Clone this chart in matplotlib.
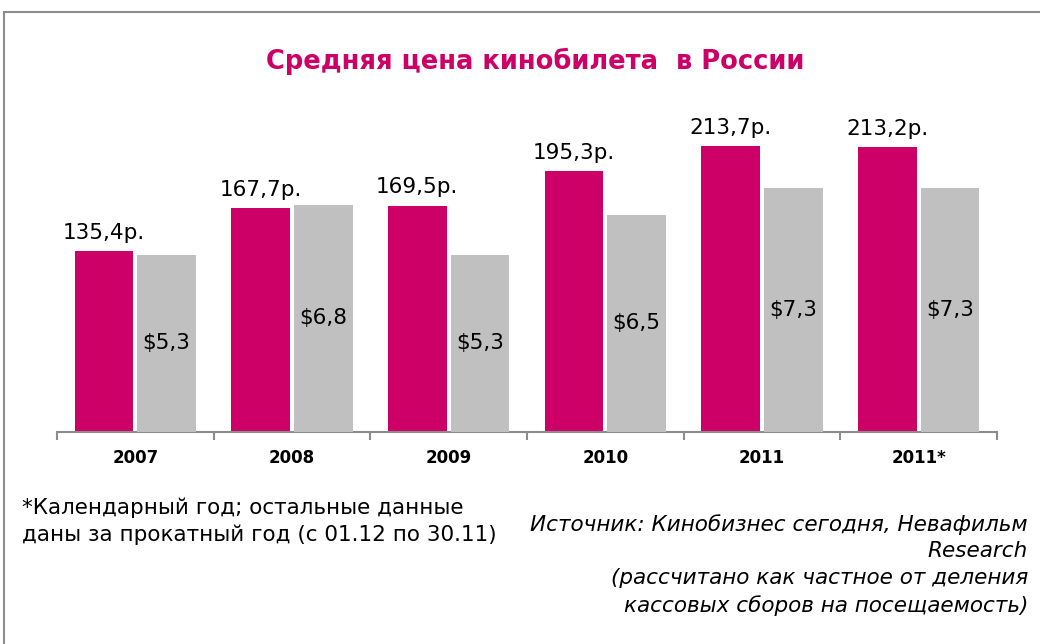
import matplotlib.pyplot as plt
from matplotlib.patches import Rectangle
import numpy as np

years = ["2007", "2008", "2009", "2010", "2011", "2011*"]
rub_price = [135.4, 167.7, 169.5, 195.3, 213.7, 213.2]
usd_price = [5.3, 6.8, 5.3, 6.5, 7.3, 7.3]

MAGENTA = "#CC0066"
GREY = "#C0C0C0"
AXIS_GREY = "#8C8C8C"


def fmt(v):
    return f"{v:.1f}".replace(".", ",")


def main():
    fig = plt.figure(figsize=(10.4, 6.44), dpi=100)

    # outer frame (only top and left edges visible in the original)
    fig.patches.append(Rectangle((4 / 1040, -0.1), 1.2, 1 - 12 / 644 + 0.1,
                                 transform=fig.transFigure, fill=False,
                                 edgecolor="#8C8C8C", linewidth=1.5))

    ax = fig.add_axes([57 / 1040, 1 - 432 / 644, 940 / 1040, 334 / 644])
    ax2 = ax.twinx()

    x = np.arange(len(years))
    width = 0.375
    ax.bar(x - 0.2, rub_price, width, color=MAGENTA)
    ax2.bar(x + 0.2, usd_price, width, color=GREY)

    ax.set_ylim(0, 250)
    ax2.set_ylim(0, 10)
    ax.set_xlim(-0.5, len(years) - 0.5)

    for xi, v in zip(x, rub_price):
        ax.annotate(fmt(v) + "р.", (xi - 0.2, v), xytext=(0, 6),
                    textcoords="offset points", ha="center", va="bottom",
                    fontsize=15.5, color="black")
    for xi, v in zip(x, usd_price):
        ax2.text(xi + 0.2, v / 2, "$" + fmt(v), ha="center", va="center",
                 fontsize=15.5, color="black")

    for a in (ax, ax2):
        for side in ("top", "left", "right"):
            a.spines[side].set_visible(False)
        a.set_yticks([])
    ax.spines["bottom"].set_color(AXIS_GREY)
    ax.spines["bottom"].set_linewidth(1.5)
    ax2.spines["bottom"].set_visible(False)

    ax.set_xticks(np.arange(-0.5, len(years)), labels=[])
    ax.tick_params(axis="x", which="major", length=6, width=1.5, color=AXIS_GREY)
    ax.set_xticks(x, labels=years, minor=True)
    ax.tick_params(axis="x", which="minor", length=0, pad=12)
    for lbl in ax.get_xticklabels(minor=True):
        lbl.set_fontweight("bold")
        lbl.set_fontsize(12)

    fig.text(535 / 1040, 1 - 61 / 644, "Средняя цена кинобилета  в России",
             ha="center", va="center", fontsize=18.5, fontweight="bold",
             color=MAGENTA)

    fig.text(22 / 1040, 1 - 521 / 644,
             "*Календарный год; остальные данные\nданы за прокатный год (с 01.12 по 30.11)",
             ha="left", va="center", fontsize=15.5, linespacing=1.42)
    fig.text(1028 / 1040, 1 - 565 / 644,
             "Источник: Кинобизнес сегодня, Невафильм\nResearch\n"
             "(рассчитано как частное от деления\nкассовых сборов на посещаемость)",
             ha="right", va="center", fontsize=15.5, style="italic",
             linespacing=1.42)

    fig.savefig("out.png", dpi=100)


if __name__ == "__main__":
    main()
